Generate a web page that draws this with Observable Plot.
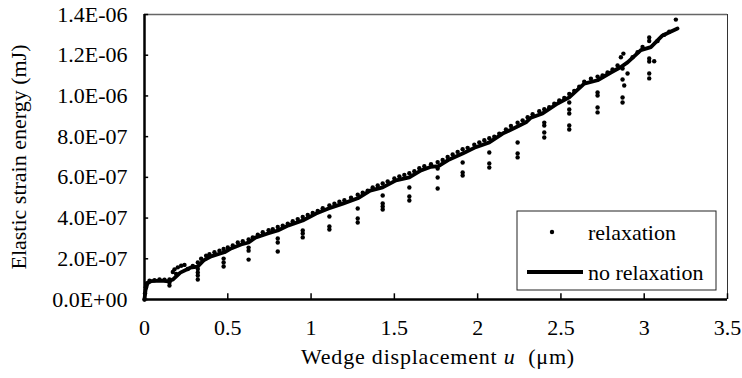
<!DOCTYPE html>
<html><head>
<meta charset="utf-8">
<script src="https://cdn.jsdelivr.net/npm/d3@7"></script>
<script src="https://cdn.jsdelivr.net/npm/@observablehq/plot@0.6"></script>
<style>body{margin:0;background:#fff}</style>
</head><body><div id="chart"></div>
<script>
// values in units of 1e-6 mJ
const noRelaxation = [[0,0],[0.006,0.045],[0.018,0.08],[0.04,0.09],[0.1,0.093],[0.145,0.089],[0.17,0.098],[0.215,0.132],[0.275,0.156],[0.32,0.162],[0.355,0.192],[0.4,0.212],[0.455,0.226],[0.48,0.232],[0.52,0.251],[0.58,0.27],[0.625,0.28],[0.665,0.304],[0.74,0.324],[0.8,0.339],[0.865,0.364],[0.95,0.388],[1.03,0.422],[1.105,0.447],[1.195,0.472],[1.28,0.497],[1.355,0.535],[1.43,0.551],[1.51,0.585],[1.59,0.6],[1.66,0.634],[1.72,0.652],[1.765,0.655],[1.83,0.688],[1.91,0.717],[1.98,0.745],[2.07,0.772],[2.15,0.815],[2.23,0.846],[2.29,0.87],[2.32,0.893],[2.39,0.914],[2.48,0.963],[2.55,0.993],[2.64,1.06],[2.72,1.077],[2.8,1.115],[2.86,1.142],[2.9,1.165],[2.98,1.225],[3.04,1.24],[3.11,1.297],[3.2,1.331]];
const relaxation = [[0,0],[0.003,0.03],[0.008,0.06],[0.015,0.08],[0.03,0.092],[0.06,0.095],[0.09,0.098],[0.12,0.097],
[0.15,0.098],[0.15,0.084],[0.15,0.069],
[0.17,0.135],[0.18,0.148],[0.2,0.158],[0.22,0.166],[0.24,0.17],[0.19,0.125],[0.26,0.15],[0.29,0.165],
[0.32,0.182],[0.32,0.15],[0.32,0.133],[0.32,0.118],[0.32,0.098],
[0.34,0.2],[0.37,0.215],[0.39,0.222],[0.42,0.232],[0.45,0.24],
[0.475,0.248],[0.475,0.201],[0.475,0.182],[0.475,0.162],
[0.5,0.256],[0.53,0.265],[0.56,0.28],[0.59,0.286],
[0.625,0.295],[0.625,0.255],[0.625,0.24],[0.625,0.196],
[0.65,0.305],[0.68,0.318],[0.71,0.33],[0.745,0.34],[0.77,0.345],
[0.8,0.356],[0.8,0.3],[0.8,0.28],[0.8,0.236],
[0.83,0.362],[0.86,0.372],[0.89,0.385],[0.92,0.395],
[0.95,0.405],[0.95,0.339],[0.95,0.324],[0.95,0.305],
[0.98,0.415],[1.01,0.425],[1.04,0.435],[1.07,0.448],
[1.11,0.462],[1.11,0.408],[1.11,0.359],[1.11,0.344],
[1.14,0.47],[1.17,0.48],[1.2,0.488],[1.24,0.5],
[1.28,0.515],[1.28,0.447],[1.28,0.398],[1.28,0.378],
[1.31,0.525],[1.34,0.535],[1.37,0.55],[1.4,0.56],
[1.43,0.57],[1.43,0.511],[1.43,0.472],[1.43,0.457],[1.43,0.442],
[1.46,0.58],[1.5,0.595],[1.53,0.605],[1.56,0.612],
[1.59,0.62],[1.59,0.55],[1.59,0.506],[1.59,0.486],
[1.62,0.63],[1.65,0.645],[1.68,0.655],[1.72,0.665],
[1.76,0.675],[1.76,0.643],[1.76,0.599],[1.76,0.545],
[1.79,0.685],[1.82,0.7],[1.85,0.712],[1.88,0.725],
[1.91,0.738],[1.91,0.673],[1.91,0.624],[1.91,0.609],
[1.94,0.745],[1.98,0.76],[2.01,0.772],[2.04,0.782],
[2.07,0.792],[2.07,0.722],[2.07,0.668],[2.07,0.648],
[2.1,0.8],[2.13,0.815],[2.17,0.835],[2.2,0.852],
[2.24,0.868],[2.24,0.771],[2.24,0.717],[2.24,0.698],
[2.27,0.88],[2.3,0.895],[2.33,0.91],[2.37,0.925],
[2.4,0.935],[2.4,0.869],[2.4,0.855],[2.4,0.82],[2.4,0.796],
[2.43,0.945],[2.46,0.962],[2.49,0.978],[2.52,0.99],
[2.55,1.01],[2.55,0.968],[2.55,0.933],[2.55,0.914],[2.55,0.855],[2.55,0.835],
[2.58,1.025],[2.61,1.045],[2.64,1.07],[2.68,1.085],
[2.72,1.095],[2.72,1.017],[2.72,1.002],[2.72,0.943],[2.72,0.919],
[2.75,1.1],[2.78,1.115],[2.81,1.13],[2.84,1.15],
[2.86,1.19],[2.875,1.208],[2.87,1.135],[2.87,1.081],[2.88,1.051],[2.87,0.992],[2.87,0.968],[2.9,1.11],
[2.93,1.19],[2.96,1.215],[2.99,1.24],
[3.03,1.287],[3.03,1.27],[3.03,1.184],[3.03,1.169],[3.03,1.11],[3.03,1.086],[3.06,1.17],
[3.08,1.27],[3.12,1.3],[3.15,1.315],[3.19,1.375]];
const xTicks = [0,0.5,1,1.5,2,2.5,3,3.5];
const xTickLabels = ["0","0.5","1","1.5","2","2.5","3","3.5"];
const yTicks = [0,0.2,0.4,0.6,0.8,1.0,1.2,1.4];
const yTickLabels = ["0.0E+00","2.0E-07","4.0E-07","6.0E-07","8.0E-07","1.0E-06","1.2E-06","1.4E-06"];
const seriesNames = ["relaxation","no relaxation"];

const FONT = "Liberation Serif, Times New Roman, serif";
const plot = Plot.plot({
  width: 742, height: 378,
  marginLeft: 144, marginRight: 15, marginTop: 14, marginBottom: 79,
  x: {domain: [0, 3.5]},
  y: {domain: [0, 1.4]},
  style: {fontFamily: FONT, fontSize: "22px", color: "#000", background: "#fff"},
  marks: [
    Plot.ruleY([1.4], {stroke: "#666", strokeWidth: 1.5}),
    Plot.ruleX([3.5], {stroke: "#333", strokeWidth: 1}),
    Plot.ruleX(xTicks, {x: d => d, y1: 0, y2: 0.028, stroke: "#000", strokeWidth: 1.5}),
    Plot.ruleY(yTicks, {y: d => d, x1: 0, x2: 0.025, stroke: "#000", strokeWidth: 1.5}),
    Plot.line(noRelaxation, {x: d => d[0], y: d => d[1], stroke: "#000", strokeWidth: 3.8, curve: "linear"}),
    Plot.dot(relaxation, {x: d => d[0], y: d => d[1], r: 2.2, fill: "#000", stroke: "none"}),
    Plot.ruleX([0], {stroke: "#000", strokeWidth: 2.5}),
    Plot.ruleY([0], {stroke: "#000", strokeWidth: 2.5}),
    Plot.axisX(xTicks, {tickSize: 0, tickPadding: 20, tickFormat: (d, i) => xTickLabels[i], label: null, fontSize: 22}),
    Plot.axisY(yTicks, {tickSize: 0, tickPadding: 17, tickFormat: (d, i) => yTickLabels[i], label: null, fontSize: 22})
  ]
});
document.getElementById("chart").appendChild(plot);

const svg = d3.select(plot);
// axis titles
const xt = svg.append("text").attr("x", 438).attr("y", 356).attr("dy", "0.35em")
  .attr("text-anchor", "middle").attr("font-size", 22).attr("letter-spacing", 0.8).attr("fill", "#000");
xt.append("tspan").text("Wedge displacement ");
xt.append("tspan").attr("font-style", "italic").text("u");
xt.append("tspan").text("  (\u03bcm)");
svg.append("text").attr("transform", "translate(18,157) rotate(-90)").attr("dy", "0.35em")
  .attr("text-anchor", "middle").attr("font-size", 22).attr("fill", "#000")
  .text("Elastic strain energy (mJ)");
// legend
const lg = svg.append("g");
lg.append("rect").attr("x", 517).attr("y", 211).attr("width", 199).attr("height", 79)
  .attr("fill", "#fff").attr("stroke", "#222").attr("stroke-width", 1);
lg.append("circle").attr("cx", 552).attr("cy", 232).attr("r", 2.2).attr("fill", "#000");
lg.append("line").attr("x1", 527).attr("x2", 583).attr("y1", 272).attr("y2", 272).attr("stroke", "#000").attr("stroke-width", 3.8);
seriesNames.forEach((n, i) => {
  lg.append("text").attr("x", 588).attr("y", i === 0 ? 232 : 272).attr("dy", "0.35em")
    .attr("text-anchor", "start").attr("font-size", 22).attr("fill", "#000").text(n);
});
</script>
</body></html>
